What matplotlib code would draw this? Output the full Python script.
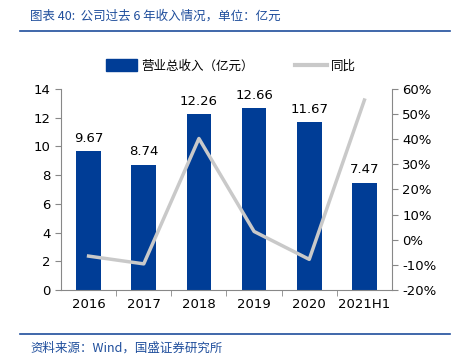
import matplotlib
matplotlib.use("Agg")
import matplotlib.pyplot as plt
from matplotlib.patches import Patch
from matplotlib.lines import Line2D

plt.rcParams['font.family'] = ['Noto Sans CJK SC', 'DejaVu Sans']

categories = ["2016", "2017", "2018", "2019", "2020", "2021H1"]
revenue = [9.67, 8.74, 12.26, 12.66, 11.67, 7.47]
yoy = [-6.5, -9.6, 40.3, 3.3, -7.8, 55.6]
left_ticks = [0, 2, 4, 6, 8, 10, 12, 14]
right_ticks = [-20, -10, 0, 10, 20, 30, 40, 50, 60]

bar_color = "#003d96"
line_color = "#c9c9c9"
title_color = "#1f4e9c"

fig = plt.figure(figsize=(4.52, 3.64), dpi=100)
W, H = 452, 364
ax = fig.add_axes([61 / W, 1 - 290 / H, 331 / W, 201 / H])
x = list(range(len(categories)))
ax.bar(x, revenue, width=0.45, color=bar_color, zorder=2)
for xi, v in zip(x, revenue):
    ax.text(xi, v + 0.45, f"{v:.2f}", ha="center", va="bottom", fontsize=9.5,
            family=["DejaVu Sans"], color="#000000")
ax.set_xlim(-0.5, len(categories) - 0.5)
ax.set_ylim(0, 14)
ax.set_yticks(left_ticks)
ax.set_xticks(x)
ax.set_xticklabels(categories)
ax.tick_params(axis="both", labelsize=9.5, length=4, color="#888888", width=0.8)
ax.tick_params(axis="x", length=0, pad=6)
for lbl in ax.get_xticklabels() + ax.get_yticklabels():
    lbl.set_family(["DejaVu Sans"])
ax.set_xticks([i + 0.5 for i in x[:-1]], minor=True)
ax.tick_params(axis="x", which="minor", length=4, color="#888888")
for s in ["top", "right"]:
    ax.spines[s].set_visible(False)
ax.spines["left"].set_color("#888888")
ax.spines["bottom"].set_color("#888888")

ax2 = ax.twinx()
ax2.plot(x, yoy, color=line_color, linewidth=2.5, zorder=3)
ax2.set_ylim(-20, 60)
ax2.set_yticks(right_ticks)
ax2.set_yticklabels([f"{t}%" for t in right_ticks])
ax2.tick_params(axis="y", labelsize=9.5, length=4, color="#888888", width=0.8)
for lbl in ax2.get_yticklabels():
    lbl.set_family(["DejaVu Sans"])
for s in ["top", "left", "bottom"]:
    ax2.spines[s].set_visible(False)
ax2.spines["right"].set_color("#888888")

# Legend
handles = [Patch(color=bar_color, label="营业总收入（亿元）"),
           Line2D([0], [0], color=line_color, linewidth=3, label="同比")]
fig.legend(handles=handles, loc="center", bbox_to_anchor=(231 / W, 1 - 66 / H),
           ncol=2, frameon=False, fontsize=9, handlelength=2.5, handleheight=1.1,
           columnspacing=3.3, handletextpad=0.35)

# Title and footer
fig.text(30 / W, 1 - 16 / H, "图表 40:  公司过去 6 年收入情况，单位：亿元", fontsize=9,
         color=title_color, style="italic", va="center", ha="left")
fig.add_artist(Line2D([20 / W, 450 / W], [1 - 31 / H, 1 - 31 / H], color=title_color, linewidth=1.2))
fig.add_artist(Line2D([20 / W, 450 / W], [1 - 334 / H, 1 - 334 / H], color=title_color, linewidth=1.2))
fig.text(30 / W, 1 - 348 / H, "资料来源：Wind，国盛证券研究所", fontsize=9,
         color=title_color, style="italic", va="center", ha="left")

fig.savefig("out.png", dpi=100)
